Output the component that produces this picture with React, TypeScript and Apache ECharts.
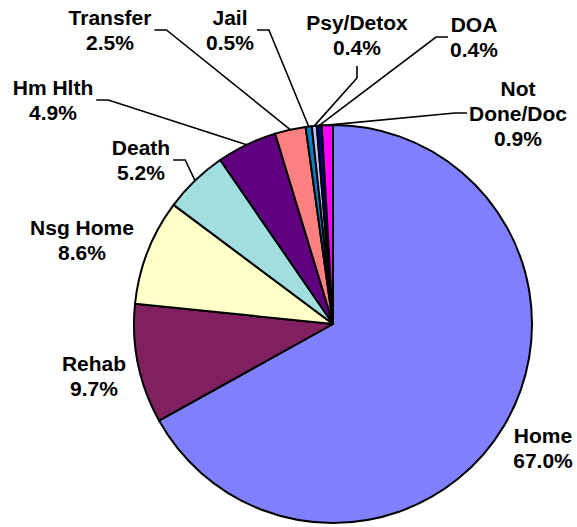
import React, { useEffect, useRef } from "react";
import * as echarts from "echarts";

const categories = ["Home", "Rehab", "Nsg Home", "Death", "Hm Hlth", "Transfer", "Jail", "Psy/Detox", "DOA", "Not Done/Doc"];
const values = [67.0, 9.7, 8.6, 5.2, 4.9, 2.5, 0.5, 0.4, 0.4, 0.9];
const labelNames = ["Home", "Rehab", "Nsg Home", "Death", "Hm Hlth", "Transfer", "Jail", "Psy/Detox", "DOA", "Not\nDone/Doc"];
const colors = ["#8080FF", "#802060", "#FFFFC8", "#A0DEE0", "#600080", "#FF8080", "#0080C0", "#C0C0FF", "#000080", "#FF00FF"];

// label placement: center x, center y, leader side (none / right / left / down)
const labelPlacement: { x: number; y: number; side: string }[] = [
  { x: 543, y: 448, side: "none" },
  { x: 94, y: 376, side: "none" },
  { x: 82, y: 240, side: "none" },
  { x: 141, y: 160, side: "right" },
  { x: 53, y: 100, side: "right" },
  { x: 110, y: 30, side: "right" },
  { x: 230, y: 30, side: "right" },
  { x: 357, y: 35, side: "down" },
  { x: 474, y: 37, side: "left" },
  { x: 518, y: 113, side: "left" },
];

export default function App() {
  const ref = useRef<HTMLDivElement>(null);
  useEffect(() => {
    if (!ref.current) return;
    const chart = echarts.init(ref.current, null, { renderer: "svg" });
    const data = categories.map((name, i) => ({
      name,
      value: values[i],
      itemStyle: { color: colors[i] },
      labelLine: { show: labelPlacement[i].side !== "none" },
    }));
    chart.setOption({
      animation: false,
      backgroundColor: "#ffffff",
      series: [
        {
          type: "pie",
          center: [333, 324],
          radius: 199,
          startAngle: 90,
          clockwise: true,
          avoidLabelOverlap: false,
          data,
          itemStyle: { borderColor: "#000", borderWidth: 2 },
          label: {
            show: true,
            position: "outside",
            color: "#000",
            fontFamily: "Liberation Sans, Arial, sans-serif",
            fontWeight: "bold",
            fontSize: 21,
            lineHeight: 25,
            align: "center",
            formatter: (p: any) => `${labelNames[p.dataIndex]}\n${values[p.dataIndex].toFixed(1)}%`,
          },
          labelLine: {
            show: true,
            lineStyle: { color: "#000", width: 1.6 },
          },
          emphasis: { disabled: true },
          labelLayout: (params: any) => {
            const lp = labelPlacement[params.dataIndex];
            const w = params.labelRect.width;
            const h = params.labelRect.height;
            const res: any = { x: lp.x, y: lp.y, align: "center", verticalAlign: "middle" };
            const pts = params.labelLinePoints;
            if (lp.side !== "none" && pts && pts.length) {
              const anchor = pts[0];
              let end: number[];
              let bend: number[];
              if (lp.side === "right") {
                end = [lp.x + w / 2 + 3, lp.y];
                bend = [end[0] + 12, end[1]];
              } else if (lp.side === "left") {
                end = [lp.x - w / 2 - 2, lp.y];
                bend = [end[0] - 12, end[1]];
              } else {
                end = [lp.x, lp.y + h / 2 + 6];
                bend = [end[0], end[1] + 12];
              }
              res.labelLinePoints = [anchor, bend, end];
            }
            return res;
          },
        },
      ],
    });
    return () => chart.dispose();
  }, []);
  return (
    <div
      ref={ref}
      style={{ position: "fixed", left: 0, top: 0, width: 577, height: 527, background: "#fff" }}
    />
  );
}
